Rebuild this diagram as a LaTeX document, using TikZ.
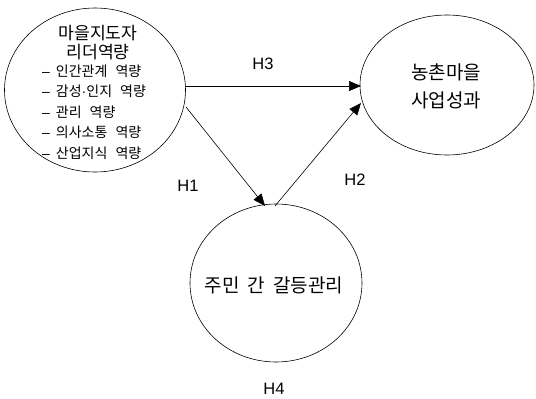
\documentclass[tikz,border=0pt]{standalone}
\usepackage{fontspec}
\setmainfont{Noto Sans CJK KR}
\newfontfamily\latinfont{Liberation Sans}
\usetikzlibrary{arrows.meta}
\tikzset{
  circ/.style={draw, ellipse, line width=0.6pt},
  conn/.style={line width=0.6pt, -{Triangle[length=12pt,width=10pt]}},
  hlab/.style={font=\latinfont\fontsize{16.5}{16}\selectfont, inner sep=0pt}
}
\usetikzlibrary{shapes.geometric}
\begin{document}
\begin{tikzpicture}[x=1pt,y=-1pt]
\useasboundingbox (0,0) rectangle (536,399);
% ellipses
\node[circ, minimum width=181pt, minimum height=164pt, inner sep=0pt] (lead) at (95,90) {};
\node[circ, minimum width=174pt, minimum height=140pt, inner sep=0pt] (perf) at (447,85) {};
\node[circ, minimum width=172pt, minimum height=158pt, inner sep=0pt] (conf) at (276,283) {};
% texts
\node[font=\fontsize{17.2}{17}\selectfont, inner sep=0pt] (t1) at (98,33) {마을지도자};
\node[font=\fontsize{17.2}{17}\selectfont, inner sep=0pt] (t2) at (98,52) {리더역량};
\begin{scope}[every node/.style={font=\fontsize{14}{14}\selectfont, inner sep=0pt, anchor=west}]
\node (i1) at (42,71) {{\latinfont –}\hspace{6pt}인간관계\hspace{8pt}역량};
\node (i2) at (42,91.5) {{\latinfont –}\hspace{6pt}감성{\latinfont ·}인지\hspace{8pt}역량};
\node (i3) at (42,112) {{\latinfont –}\hspace{6pt}관리\hspace{8pt}역량};
\node (i4) at (42,132.5) {{\latinfont –}\hspace{6pt}의사소통\hspace{8pt}역량};
\node (i5) at (42,153) {{\latinfont –}\hspace{6pt}산업지식\hspace{8pt}역량};
\end{scope}
\node[font=\fontsize{19}{19}\selectfont, inner sep=0pt] (p1) at (446,72) {농촌마을};
\node[font=\fontsize{19}{19}\selectfont, inner sep=0pt] (p2) at (446,100) {사업성과};
\node[font=\fontsize{19}{19}\selectfont, inner sep=0pt] (c1) at (274,285) {주민\hspace{8pt}간\hspace{8pt}갈등관리};
% connectors
\coordinate (a1) at (185,86);
\coordinate (a2) at (361,86);
\draw[conn] (a1) -- (a2);
\coordinate (b1) at (186,107);
\coordinate (b2) at (265,206);
\draw[conn] (b1) -- (b2);
\coordinate (c2a) at (275,206);
\coordinate (c2b) at (361,103);
\draw[conn] (c2a) -- (c2b);
% labels
\node[hlab] (h3) at (263,64) {H3};
\node[hlab] (h1) at (188,186) {H1};
\node[hlab] (h2) at (355,180) {H2};
\node[hlab] (h4) at (274,389) {H4};
\end{tikzpicture}
\end{document}
